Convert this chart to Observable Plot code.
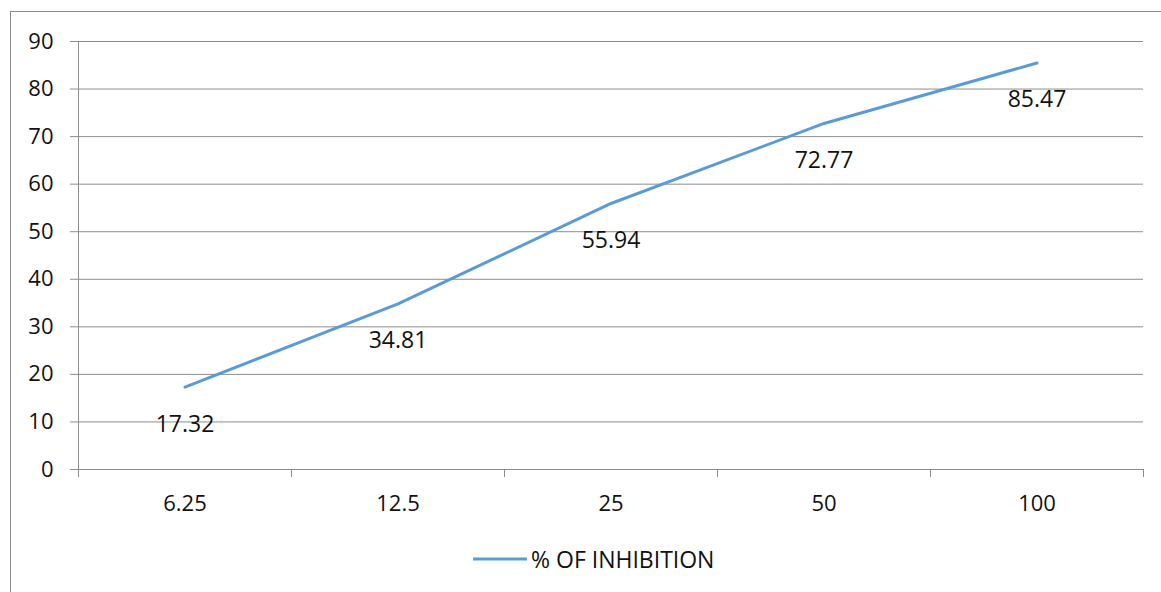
<!DOCTYPE html>
<html>
<head>
<meta charset="utf-8">
<script src="https://cdn.jsdelivr.net/npm/d3@7"></script>
<script src="https://cdn.jsdelivr.net/npm/@observablehq/plot@0.6"></script>
<style>
  html, body { margin: 0; padding: 0; background: #fff; overflow: hidden; }
  #wrap { position: relative; width: 1161px; height: 592px; overflow: hidden; font-family: "Open Sans", sans-serif; }
  #border { position: absolute; left: 10px; top: 11px; width: 1300px; height: 800px; border: 1px solid #8a8a8a; box-sizing: border-box; }
  #chart { position: absolute; left: 0; top: 0; }
  #legend { position: absolute; left: 473px; top: 544px; height: 30px; display: flex; align-items: center; font-size: 23px; color: #111; }
  #legend svg { margin-right: 4px; }
</style>
</head>
<body>
<div id="wrap">
  <div id="border"></div>
  <div id="chart"></div>
  <div id="legend"></div>
</div>
<script>
// Concentrations (category axis) and measured inhibition per concentration
const categories = ["6.25", "12.5", "25", "50", "100"];
const inhibition = [17.32, 34.81, 55.94, 72.77, 85.47];
const yTicks = [0, 10, 20, 30, 40, 50, 60, 70, 80, 90];
const seriesName = "% OF INHIBITION";

const lineColor = "#5B9BD5";
const gridColor = "#8c8c8c";
const textColor = "#111";

const rows = categories.map((c, i) => ({ i, c, v: inhibition[i] }));
// category boundaries for the tick marks between the labels
const edges = d3.range(-0.5, categories.length, 1);
const centers = d3.range(categories.length);

const chart = Plot.plot({
  width: 1161,
  height: 592,
  marginLeft: 78,
  marginRight: 18,
  marginTop: 41,
  marginBottom: 123,
  style: { fontFamily: "'Open Sans', sans-serif", fontSize: "22px", color: textColor, background: "transparent", overflow: "visible" },
  x: { domain: [-0.5, categories.length - 0.5] },
  y: { domain: [0, 90] },
  marks: [
    Plot.gridY(yTicks, { stroke: gridColor, strokeOpacity: 1, strokeWidth: 1 }),
    Plot.axisY(yTicks, { tickSize: 8, tickPadding: 17, stroke: gridColor, strokeOpacity: 1, fill: textColor, label: null, fontSize: 22 }),
    Plot.ruleX([-0.5], { stroke: gridColor, strokeWidth: 1 }),
    Plot.ruleY([0], { stroke: gridColor, strokeWidth: 1 }),
    Plot.axisX(edges, { tickSize: 8, tickFormat: () => "", stroke: gridColor, strokeOpacity: 1, label: null }),
    Plot.axisX(centers, { tickSize: 0, tickPadding: 26, tickFormat: i => categories[i], fill: textColor, label: null, fontSize: 22 }),
    Plot.line(rows, { x: "i", y: "v", stroke: lineColor, strokeWidth: 3, strokeLinejoin: "round" }),
    Plot.text(rows, { x: "i", y: "v", text: d => d.v.toFixed(2), dy: 37, fontSize: 23, fill: textColor })
  ]
});
document.getElementById("chart").appendChild(chart);

// legend: line swatch followed by the series name
const legend = document.getElementById("legend");
legend.innerHTML =
  `<svg width="54" height="6"><line x1="0" y1="3" x2="54" y2="3" stroke="${lineColor}" stroke-width="3"/></svg>` +
  `<span>${seriesName}</span>`;
</script>
</body>
</html>
